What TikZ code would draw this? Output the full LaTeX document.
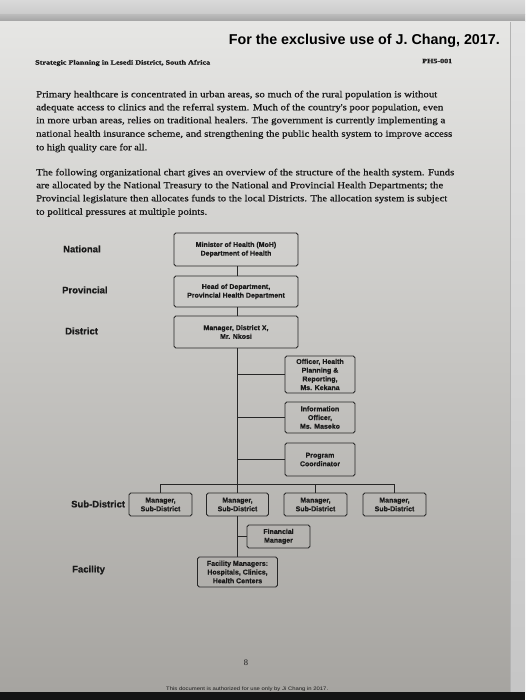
\documentclass[tikz,border=0pt]{standalone}
\usepackage{fontspec}
\setmainfont{Liberation Serif}
\setsansfont{Liberation Sans}
\newfontfamily\bodyfont{Liberation Serif}[FakeBold=0.7]
\newfontfamily\heavysans{Liberation Sans}[BoldFeatures={FakeBold=0.5}]
\definecolor{txt}{HTML}{1A1A1A}
\definecolor{boxc}{HTML}{262626}
\definecolor{pgtop}{HTML}{E6E6E4}
\definecolor{pgmid}{HTML}{D2D1CE}
\definecolor{pgbot}{HTML}{A6A4A0}
\tikzset{
  box/.style={draw=boxc, line width=0.9pt, rounded corners=1.8pt, align=center,
    font=\heavysans\bfseries\fontsize{7}{8.7}\selectfont, inner sep=0pt, text=txt},
  lvl/.style={anchor=west, inner sep=0pt, font=\heavysans\bfseries\fontsize{9.5}{11}\selectfont, text=txt},
  bodyl/.style={anchor=west, inner sep=0pt, font=\bodyfont\fontsize{9.3}{11}\selectfont, text=txt},
  conn/.style={draw=boxc, line width=0.9pt},
}
\newcommand{\fitw}[2]{\resizebox{#1pt}{\height}{#2}}
\begin{document}
\begin{tikzpicture}[x=1pt,y=-1pt]
\useasboundingbox (0,0) rectangle (525,700);
% background
\fill[top color=gray!30, bottom color=gray!42] (0,0) rectangle (525,15);
\fill[top color=gray!55, bottom color=gray!75] (0,15) rectangle (525,22);
\fill[top color=pgtop, middle color=pgmid, bottom color=pgbot] (0,22) rectangle (510,692);
\fill[top color=gray!22, bottom color=gray!45] (510,22) rectangle (525,692);
\draw[gray!60, line width=0.6pt] (510,22) -- (510,692);
\fill[black!92] (0,692) rectangle (525,700);

% header
\node[anchor=east, inner sep=0pt, font=\sffamily\bfseries\fontsize{14.3}{16}\selectfont, text=black] (title) at (500,41) {For the exclusive use of J. Chang, 2017.};
\node[anchor=west, inner sep=0pt, font=\bodyfont\bfseries\fontsize{6.6}{7}\selectfont, text=txt] (hdr) at (35,63) {\fitw{175}{Strategic Planning in Lesedi District, South Africa}};
\node[anchor=west, inner sep=0pt, font=\bodyfont\bfseries\fontsize{6.6}{7}\selectfont, text=txt] (code) at (422,61) {\fitw{30}{PH5-001}};

% paragraph 1
\node[bodyl] (p1a) at (36,95) {\fitw{401}{Primary healthcare is concentrated in urban areas, so much of the rural population is without}};
\node[bodyl] (p1b) at (36,108) {\fitw{407}{adequate access to clinics and the referral system. Much of the country's poor population, even}};
\node[bodyl] (p1c) at (36,121) {\fitw{409}{in more urban areas, relies on traditional healers. The government is currently implementing a}};
\node[bodyl] (p1d) at (36,134.5) {\fitw{416}{national health insurance scheme, and strengthening the public health system to improve access}};
\node[bodyl] (p1e) at (36,148) {\fitw{111}{to high quality care for all.}};
% paragraph 2
\node[bodyl] (p2a) at (36,173) {\fitw{418}{The following organizational chart gives an overview of the structure of the health system. Funds}};
\node[bodyl] (p2b) at (36,186) {\fitw{407}{are allocated by the National Treasury to the National and Provincial Health Departments; the}};
\node[bodyl] (p2c) at (36,199) {\fitw{411}{Provincial legislature then allocates funds to the local Districts. The allocation system is subject}};
\node[bodyl] (p2d) at (36,212.5) {\fitw{171}{to political pressures at multiple points.}};

% level labels
\node[lvl] (lnat) at (63,249) {National};
\node[lvl] (lprov) at (62,290) {Provincial};
\node[lvl] (ldist) at (65,331) {District};
\node[lvl] (lsub) at (71,504) {Sub-District};
\node[lvl] (lfac) at (72,570) {Facility};

% boxes
\node[box, minimum width=124pt, minimum height=33pt] (min) at (236,249.5) {Minister of Health (MoH)\\Department of Health};
\node[box, minimum width=124pt, minimum height=31pt] (prov) at (236,291.5) {Head of Department,\\Provincial Health Department};
\node[box, minimum width=124pt, minimum height=32pt] (dist) at (236,332) {Manager, District X,\\Mr. Nkosi};
\node[box, minimum width=70pt, minimum height=37pt] (off) at (320,374.5) {Officer, Health\\Planning \&\\Reporting,\\Ms. Kekana};
\node[box, minimum width=70pt, minimum height=31pt] (info) at (320,417.5) {Information\\Officer,\\Ms. Maseko};
\node[box, minimum width=70pt, minimum height=33pt] (prog) at (320,459.5) {Program\\Coordinator};
\node[box, minimum width=63pt, minimum height=23pt] (sub1) at (160.5,504.5) {Manager,\\Sub-District};
\node[box, minimum width=62pt, minimum height=23pt] (sub2) at (237.5,504.5) {Manager,\\Sub-District};
\node[box, minimum width=63pt, minimum height=23pt] (sub3) at (315.5,504.5) {Manager,\\Sub-District};
\node[box, minimum width=63pt, minimum height=23pt] (sub4) at (394.5,504.5) {Manager,\\Sub-District};
\node[box, minimum width=63pt, minimum height=23pt] (fin) at (278.5,536.5) {Financial\\Manager};
\node[box, minimum width=80pt, minimum height=30pt] (fac) at (237.5,572) {Facility Managers:\\Hospitals, Clinics,\\Health Centers};

% connectors
\coordinate (bus) at (237,484.5);
\draw[conn] (min.south -| bus) -- (prov.north -| bus);
\draw[conn] (prov.south -| bus) -- (dist.north -| bus);
\draw[conn] (dist.south -| bus) -- (bus);
\draw[conn] (off.west) -- (off.west -| bus);
\draw[conn] (info.west) -- (info.west -| bus);
\draw[conn] (prog.west) -- (prog.west -| bus);
\draw[conn] (sub1.north) |- (bus) -| (sub4.north);
\draw[conn] (sub2.north) -- (sub2.north |- bus);
\draw[conn] (sub3.north) -- (sub3.north |- bus);
\draw[conn] (sub2.south) -- (fac.north);
\draw[conn] (fin.west) -- (fin.west -| sub2.south);

% footer
\node[inner sep=0pt, font=\fontsize{8.5}{10}\selectfont, text=txt] (pg) at (246,663) {8};
\node[anchor=west, inner sep=0pt, font=\sffamily\fontsize{5}{6}\selectfont, text=txt] (foot) at (166,689) {\fitw{162}{This document is authorized for use only by Ji Chang in 2017.}};
\end{tikzpicture}
\end{document}
